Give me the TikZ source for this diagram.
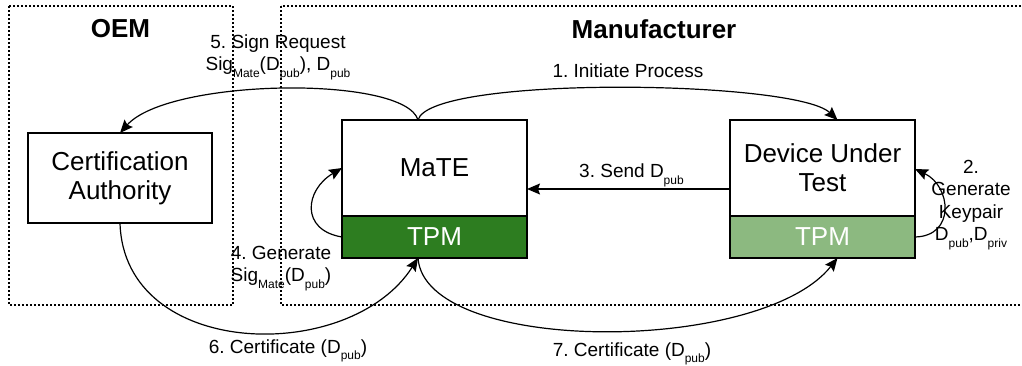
\documentclass[tikz,border=0pt]{standalone}
\usepackage{fontspec}
\setmainfont{Liberation Sans}
\usepackage{xcolor}
\usepackage{tikz}
\usetikzlibrary{arrows.meta, positioning}
\definecolor{tpmgreen}{RGB}{45, 125, 32}
\definecolor{tpmlight}{RGB}{140, 185, 128}
\newcommand{\lowsub}[1]{\raisebox{-6.5pt}{\fontsize{12}{12}\selectfont #1}}
\frenchspacing

\begin{document}
\begin{tikzpicture}[
  x=1pt, y=-1pt,
  node distance=203pt,
  unit/.style={rectangle, draw=black, line width=1.2pt, outer sep=0pt, minimum width=185pt,
               minimum height=96pt, align=center, font=\fontsize{26}{29}\selectfont},
  chip/.style={unit, minimum height=42pt, text=white},
  region/.style={draw=black, line width=1.2pt, dash pattern=on 2pt off 2pt},
  heading/.style={inner sep=0pt, font=\fontsize{26}{30}\selectfont\bfseries},
  msg/.style={align=center, inner sep=0pt, font=\fontsize{19}{22.5}\selectfont},
  arrow/.style={-{Stealth[length=13pt, width=11pt, inset=2pt]}, line width=1.2pt}
]
  \useasboundingbox (0,0) rectangle (1022,365);

  \draw[region] (9,6) rectangle (233,305);
  \draw[region] (281,6) rectangle (1030,305);
  \node[heading] (oem) at (120.5,28.5) {OEM};
  \node[heading] (manu) at (654,29) {Manufacturer};

  \node[unit, minimum width=184pt, minimum height=90pt] (ca) at (120,178) {Certification\\Authority};
  \node[unit] (mate) at (434.5,168) {MaTE};
  \node[chip, fill=tpmgreen, below=0pt of mate] (matetpm) {TPM};
  \node[unit, right=of mate] (dut) {Device Under\\Test};
  \node[chip, fill=tpmlight, below=0pt of dut] (duttpm) {TPM};

  \node[msg] (m1) at (628,70.5) {1. Initiate Process};
  \node[msg] (m2) at (971,205) {2.\\Generate\\Keypair\\D\lowsub{pub},D\lowsub{priv}};
  \node[msg] (m3) at (631.5,175.5) {3. Send D\lowsub{pub}};
  \node[msg] (m4) at (281,268.5) {4. Generate\\Sig\lowsub{Mate}(D\lowsub{pub})};
  \node[msg] (m5) at (278,57) {5. Sign Request\\Sig\lowsub{Mate}(D\lowsub{pub}), D\lowsub{pub}};
  \node[msg] (m6) at (288,351) {6. Certificate (D\lowsub{pub})};
  \node[msg] (m7) at (632,354) {7. Certificate (D\lowsub{pub})};

  \draw[arrow] ([xshift=-16.5pt]mate.north) .. controls +(12,-45) and +(-42,-40) .. ([xshift=15pt]dut.north);
  \draw[arrow] (duttpm.east) .. controls +(41,-1) and +(36,17) .. ([yshift=-1pt]dut.east);
  \draw[arrow] ([yshift=-21pt]dut.west) -- ([yshift=-21pt]mate.east);
  \draw[arrow] (matetpm.west) .. controls +(-42,-7) and +(-37,22) .. (mate.west);
  \draw[arrow] ([xshift=-16.5pt]mate.north) .. controls +(-13,-45) and +(49,-55) .. (ca.north);
  \draw[arrow] (ca.south) .. controls +(4,137) and +(-68,107) .. ([xshift=-16.5pt]matetpm.south);
  \draw[arrow] ([xshift=-16.5pt]matetpm.south) .. controls +(7,97) and +(-77,97) .. ([xshift=15pt]duttpm.south);
\end{tikzpicture}
\end{document}
